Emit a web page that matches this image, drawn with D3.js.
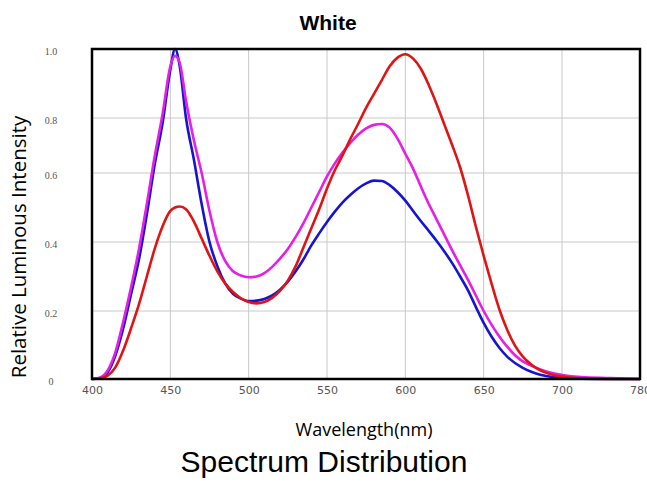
<!DOCTYPE html>
<html>
<head>
<meta charset="utf-8">
<script src="https://cdn.jsdelivr.net/npm/d3@7"></script>
<style>
  body { margin: 0; background: #fff; }
</style>
</head>
<body>
<div id="chart"></div>
<script>
// wavelengths (nm) shared by all three curves
const wavelengths = [400, 405, 410, 415, 420, 425, 430, 435, 440, 445, 450, 453, 456,
  460, 465, 470, 475, 480, 485, 490, 495, 500, 505, 510, 515, 520, 525, 530, 535, 540,
  545, 550, 555, 560, 565, 570, 575, 580, 585, 590, 595, 600, 605, 610, 615, 620, 625,
  630, 635, 640, 645, 650, 655, 660, 665, 670, 675, 680, 685, 690, 695, 700, 720, 750, 780];

const blueValues = [0, 0.003, 0.02, 0.07, 0.15, 0.25, 0.35, 0.48, 0.63, 0.78, 0.94, 1.0, 0.95,
  0.80, 0.65, 0.51, 0.40, 0.33, 0.28, 0.25, 0.236, 0.229, 0.23, 0.235, 0.245, 0.262, 0.285, 0.315, 0.35, 0.39,
  0.425, 0.458, 0.488, 0.515, 0.537, 0.556, 0.57, 0.578, 0.577, 0.565, 0.545, 0.52, 0.49, 0.46, 0.432, 0.403, 0.372,
  0.338, 0.30, 0.26, 0.212, 0.165, 0.125, 0.092, 0.066, 0.047, 0.033, 0.022, 0.014, 0.009, 0.005, 0.003, 0.001, 0, 0];

const magentaValues = [0, 0.004, 0.025, 0.08, 0.17, 0.27, 0.38, 0.51, 0.66, 0.81, 0.95, 0.98, 0.96,
  0.85, 0.72, 0.60, 0.49, 0.40, 0.345, 0.315, 0.303, 0.298, 0.30, 0.31, 0.328, 0.352, 0.38, 0.415, 0.455, 0.50,
  0.545, 0.59, 0.635, 0.675, 0.71, 0.74, 0.762, 0.775, 0.778, 0.765, 0.725, 0.67, 0.615, 0.56, 0.51, 0.465, 0.42,
  0.375, 0.332, 0.29, 0.245, 0.20, 0.16, 0.125, 0.095, 0.07, 0.052, 0.04, 0.03, 0.022, 0.016, 0.012, 0.006, 0.003, 0];

const redValues = [0, 0.002, 0.01, 0.035, 0.085, 0.15, 0.22, 0.30, 0.38, 0.445, 0.49, 0.50, 0.503,
  0.495, 0.46, 0.41, 0.36, 0.315, 0.28, 0.255, 0.237, 0.226, 0.222, 0.226, 0.238, 0.258, 0.288, 0.33, 0.385, 0.44,
  0.495, 0.555, 0.61, 0.665, 0.725, 0.78, 0.83, 0.87, 0.91, 0.95, 0.975, 0.985, 0.972, 0.942, 0.895, 0.84, 0.775,
  0.70, 0.62, 0.535, 0.445, 0.36, 0.28, 0.205, 0.145, 0.098, 0.066, 0.044, 0.028, 0.018, 0.011, 0.007, 0.002, 0, 0];

const xTicks = [400, 450, 500, 550, 600, 650, 700, 780];
const yTicks = [0, 0.2, 0.4, 0.6, 0.8, 1.0];
const yTickLabels = ['0', '0.2', '0.4', '0.6', '0.8', '1.0'];

const width = 647, height = 485;

const svg = d3.select('#chart')
  .append('svg')
  .attr('width', width)
  .attr('height', height);

// the original axes are not evenly spaced, so use piecewise scales
const x = d3.scaleLinear().domain([400, 700, 780]).range([92, 562, 640]);
const y = d3.scaleLinear().domain(yTicks).range([379, 311, 242, 173, 118, 49]);

// grid lines
svg.append('g')
  .selectAll('line')
  .data(xTicks.slice(1, -1))
  .enter()
  .append('line')
  .attr('x1', d => x(d)).attr('x2', d => x(d))
  .attr('y1', y(0)).attr('y2', y(1))
  .style('stroke', '#c8c8c8')
  .style('stroke-width', 1);

svg.append('g')
  .selectAll('line')
  .data(yTicks.slice(1, -1))
  .enter()
  .append('line')
  .attr('x1', x(400)).attr('x2', x(780))
  .attr('y1', d => y(d)).attr('y2', d => y(d))
  .style('stroke', '#c8c8c8')
  .style('stroke-width', 1);

// curves
const series = [
  { values: blueValues, color: '#1414d2' },
  { values: magentaValues, color: '#e61ee6' },
  { values: redValues, color: '#e01414' }
];

const line = d3.line()
  .x((d, i) => x(wavelengths[i]))
  .y(d => y(d))
  .curve(d3.curveMonotoneX);

svg.append('g')
  .selectAll('path')
  .data(series)
  .enter()
  .append('path')
  .attr('d', s => line(s.values))
  .style('fill', 'none')
  .style('stroke', s => s.color)
  .style('stroke-width', 2.6)
  .style('stroke-linejoin', 'round');

// frame
svg.append('rect')
  .attr('x', x(400)).attr('y', y(1))
  .attr('width', x(780) - x(400))
  .attr('height', y(0) - y(1))
  .style('fill', 'none')
  .style('stroke', '#000')
  .style('stroke-width', 2.5);

// x tick labels
const xAxis = svg.append('g')
  .attr('transform', `translate(0,${y(0)})`)
  .call(d3.axisBottom(x).tickValues(xTicks).tickSize(0).tickPadding(7));
xAxis.select('.domain').remove();
xAxis.selectAll('text')
  .attr('font-family', 'DejaVu Sans, sans-serif')
  .attr('font-size', '11px')
  .attr('fill', '#555');

// y tick labels
const yAxis = svg.append('g')
  .attr('transform', 'translate(51,2)')
  .call(d3.axisLeft(y).tickValues(yTicks).tickFormat((d, i) => yTickLabels[i]).tickSize(0).tickPadding(0));
yAxis.select('.domain').remove();
yAxis.selectAll('text')
  .attr('text-anchor', 'middle')
  .attr('font-family', 'Liberation Serif, serif')
  .attr('font-size', '10px')
  .attr('fill', '#555');

// titles
svg.append('text')
  .attr('x', 328).attr('y', 30)
  .attr('text-anchor', 'middle')
  .attr('font-family', 'Liberation Sans, Arial, sans-serif')
  .attr('font-weight', 'bold')
  .attr('font-size', '21px')
  .text('White');

svg.append('text')
  .attr('transform', 'translate(26,247) rotate(-90)')
  .attr('text-anchor', 'middle')
  .attr('font-family', 'Open Sans, sans-serif')
  .attr('font-size', '20.5px')
  .text('Relative Luminous Intensity');

svg.append('text')
  .attr('x', 364).attr('y', 436)
  .attr('text-anchor', 'middle')
  .attr('font-family', 'Open Sans, sans-serif')
  .attr('font-size', '18px')
  .text('Wavelength(nm)');

svg.append('text')
  .attr('x', 324).attr('y', 472)
  .attr('text-anchor', 'middle')
  .attr('font-family', 'Liberation Sans, Arial, sans-serif')
  .attr('font-size', '30px')
  .text('Spectrum Distribution');
</script>
</body>
</html>
